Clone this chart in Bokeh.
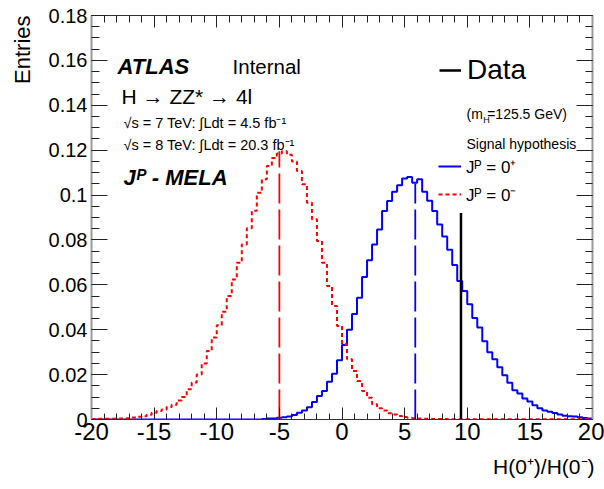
import math
import numpy as np
from bokeh.plotting import figure
from bokeh.models import (LinearAxis, FixedTicker, CustomJSTickFormatter, Label,
                          Legend, LegendItem, Title)
from bokeh.embed import file_html
from bokeh.resources import INLINE

# ---------------- data ----------------
hist_lo = -20.0
hist_hi = 20.0
n_bins = 100

# J^P = 0- hypothesis (red, dotted)
red_values = [
    0.0002, 0.0003, 0.0003, 0.0003, 0.0003, 0.0004, 0.0005, 0.0006, 0.0009, 0.0012,
    0.0015, 0.0021, 0.0030, 0.0038, 0.0045, 0.0056, 0.0066, 0.0085, 0.0100, 0.0135,
    0.0165, 0.0200, 0.0250, 0.0305, 0.0365, 0.0420, 0.0480, 0.0550, 0.0624, 0.0698,
    0.0780, 0.0852, 0.0930, 0.1010, 0.1070, 0.1130, 0.1165, 0.1185, 0.1195, 0.1180,
    0.1150, 0.1107, 0.1048, 0.0966, 0.0892, 0.0795, 0.0698, 0.0595, 0.0506, 0.0417,
    0.0335, 0.0268, 0.0216, 0.0171, 0.0127, 0.0097, 0.0068, 0.0050, 0.0040, 0.0028,
    0.0022, 0.0016, 0.0011, 0.0008, 0.0006, 0.0004, 0.0003, 0.0003, 0.0002, 0.0002,
    0.0002, 0.0001, 0.0001, 0.0001, 0.0001, 0.0001, 0.0001, 0.0001, 0.0001, 0.0001,
    0.0001, 0.0001, 0.0001, 0.0001, 0.0001, 0.0001, 0.0001, 0.0001, 0.0001, 0.0001,
    0.0001, 0.0001, 0.0001, 0.0001, 0.0001, 0.0001, 0.0001, 0.0001, 0.0001, 0.0001,
]

# J^P = 0+ hypothesis (blue, solid)
blue_values = [
    0.0, 0.0, 0.0, 0.0, 0.0, 0.0, 0.0, 0.0, 0.0, 0.0,
    0.0, 0.0, 0.0, 0.0, 0.0, 0.0, 0.0, 0.0, 0.0, 0.0,
    0.0, 0.0, 0.0, 0.0, 0.0, 0.0, 0.0, 0.0, 0.0, 0.0,
    0.0, 0.0, 0.0, 0.0, 0.0002, 0.0004, 0.0005, 0.0008, 0.0010, 0.0013,
    0.0020, 0.0030, 0.0040, 0.0055, 0.0078, 0.0105, 0.0127, 0.0168, 0.0204, 0.0264,
    0.0332, 0.0400, 0.0470, 0.0543, 0.0635, 0.0709, 0.0780, 0.0847, 0.0929, 0.0973,
    0.1015, 0.1044, 0.1074, 0.1080, 0.1055, 0.1070, 0.1015, 0.0975, 0.0929, 0.0869,
    0.0815, 0.0756, 0.0688, 0.0617, 0.0572, 0.0513, 0.0452, 0.0410, 0.0349, 0.0300,
    0.0268, 0.0233, 0.0197, 0.0164, 0.0130, 0.0116, 0.0094, 0.0080, 0.0064, 0.0050,
    0.0040, 0.0035, 0.0029, 0.0022, 0.0017, 0.0015, 0.0013, 0.0010, 0.0007, 0.0005,
]

# observed value
data_x = [9.5]
data_top = [0.092]

# medians of the two hypotheses (dashed lines) and their heights
median_x = [-5.0, 5.85]
median_top = [0.1195, 0.105]
median_colors = ["#ff0000", "#0000ff"]

x_ticks = [-20, -15, -10, -5, 0, 5, 10, 15, 20]
x_tick_labels = ["-20", "-15", "-10", "-5", "0", "5", "10", "15", "20"]
y_ticks = [0, 0.02, 0.04, 0.06, 0.08, 0.1, 0.12, 0.14, 0.16, 0.18]
y_tick_labels = ["0", "0.02", "0.04", "0.06", "0.08", "0.1", "0.12", "0.14", "0.16", "0.18"]

# ---------------- figure ----------------
FONT = "Liberation Sans"

p = figure(width=604, height=489, x_range=(hist_lo, hist_hi), y_range=(0, 0.18),
           output_backend="svg", toolbar_location=None,
           min_border_left=91, min_border_right=12, min_border_top=15, min_border_bottom=70)
p.xgrid.visible = False
p.ygrid.visible = False
p.outline_line_color = None
p.background_fill_color = "white"
p.border_fill_color = "white"

edges = np.linspace(hist_lo, hist_hi, n_bins + 1)
step_x = list(edges)

x_minor = list(np.arange(-20, 20.01, 1.0))
y_minor = list(np.round(np.arange(0, 0.1801, 0.005), 4))

xt = FixedTicker(ticks=x_ticks, minor_ticks=x_minor)
yt = FixedTicker(ticks=y_ticks, minor_ticks=y_minor)

def style_axis(ax, major_in, minor_in, line_color, line_width, labels=None, size="20px", standoff=5):
    ax.major_tick_in = major_in
    ax.major_tick_out = 0
    ax.minor_tick_in = minor_in
    ax.minor_tick_out = 0
    ax.major_tick_line_color = "#222222"
    ax.minor_tick_line_color = "#222222"
    ax.major_tick_line_width = 1
    ax.minor_tick_line_width = 1
    ax.axis_line_color = line_color
    ax.axis_line_width = line_width
    if labels is None:
        ax.formatter = CustomJSTickFormatter(code="return ''")
        ax.major_label_standoff = 0
    else:
        ax.major_label_overrides = labels
        ax.major_label_text_font = FONT
        ax.major_label_text_font_size = size
        ax.major_label_text_color = "black"
        ax.major_label_standoff = standoff

xax = p.xaxis[0]
xax.ticker = xt
style_axis(xax, 12, 6, "#333333", 1, dict(zip(x_ticks, x_tick_labels)), "24px", 3)
# small spacer so that the axis title sits lower, as in ROOT
xax.axis_label = " "
xax.axis_label_text_font_size = "1px"
xax.axis_label_standoff = 8
yax = p.yaxis[0]
yax.ticker = yt
style_axis(yax, 16, 8, "#9a9a9a", 2, dict(zip(y_ticks, y_tick_labels)), "20px", 4)

top_ax = LinearAxis(ticker=FixedTicker(ticks=x_ticks, minor_ticks=x_minor))
style_axis(top_ax, 12, 7, "#333333", 1)
p.add_layout(top_ax, "above")
right_ax = LinearAxis(ticker=FixedTicker(ticks=y_ticks, minor_ticks=y_minor))
style_axis(right_ax, 16, 7, "#9a9a9a", 2)
p.add_layout(right_ax, "right")

# axis titles (ROOT style: at the far end of each axis)
p.add_layout(Title(text="H(0\u207a)/H(0\u207b)", align="right", text_font=FONT,
                   text_font_size="21px", text_font_style="normal", text_color="black",
                   standoff=0, offset=-2, vertical_align="top"), "below")
p.add_layout(Title(text="Entries", align="right", text_font=FONT,
                   text_font_size="22px", text_font_style="normal", text_color="black",
                   standoff=17, vertical_align="top"), "left")

# ---------------- histograms ----------------
r_blue = p.step(step_x, list(blue_values) + [blue_values[-1]], mode="after",
                line_color="#0000ff", line_width=2)
r_red = p.step(step_x, list(red_values) + [red_values[-1]], mode="after",
               line_color="#ff0000", line_width=2, line_dash="4 3")

p.segment(x0=median_x, y0=[0, 0], x1=median_x, y1=median_top,
          line_color=median_colors, line_width=1.8, line_dash="30 6")

r_data = p.segment(x0=data_x, y0=[0], x1=data_x, y1=data_top,
                   line_color="black", line_width=2.5)

# ---------------- legends ----------------
leg_data = Legend(items=[LegendItem(label="Data", renderers=[r_data])],
                  location=(348, 332), orientation="vertical",
                  label_text_font=FONT, label_text_font_size="28px", label_text_color="black",
                  glyph_width=22, glyph_height=34, label_height=34, label_standoff=6,
                  padding=0, margin=0, spacing=0,
                  border_line_alpha=0, background_fill_alpha=0)
p.add_layout(leg_data)

leg_sig = Legend(items=[LegendItem(label="J\u1d3e = 0\u207a", renderers=[r_blue]),
                        LegendItem(label="J\u1d3e = 0\u207b", renderers=[r_red])],
                 location=(347, 213), orientation="vertical",
                 label_text_font=FONT, label_text_font_size="17px", label_text_color="black",
                 glyph_width=23, glyph_height=24, label_height=24, label_standoff=5,
                 padding=0, margin=0, spacing=4,
                 border_line_alpha=0, background_fill_alpha=0)
p.add_layout(leg_sig)

# ---------------- texts ----------------
def lab(x, y, text, size, style="normal", **kw):
    p.add_layout(Label(x=x, y=y, text=text, text_font=FONT, text_font_size=size,
                       text_font_style=style, text_color="black",
                       text_baseline="alphabetic", **kw))

lab(-17.92, 0.1575, "ATLAS", "22px", "bold italic")
lab(-8.74, 0.1575, "Internal", "20.5px")
lab(-17.6, 0.1441, "H \u2192 ZZ* \u2192 4l", "21px")
lab(-17.45, 0.1322, "\u221as = 7 TeV: \u222bLdt = 4.5 fb\u207b\u00b9", "14.5px")
lab(-17.45, 0.1223, "\u221as = 8 TeV: \u222bLdt = 20.3 fb\u207b\u00b9", "14.5px")
lab(-17.45, 0.1077, "J\u1d3e - MELA", "22px", "bold italic")

lab(9.94, 0.1362, "(m", "14px")
lab(11.27, 0.1333, "H", "9px")
lab(11.59, 0.1362, "=125.5 GeV)", "14px")
lab(9.94, 0.1229, "Signal hypothesis", "14px")

open("out.html", "w").write(file_html(p, INLINE))
